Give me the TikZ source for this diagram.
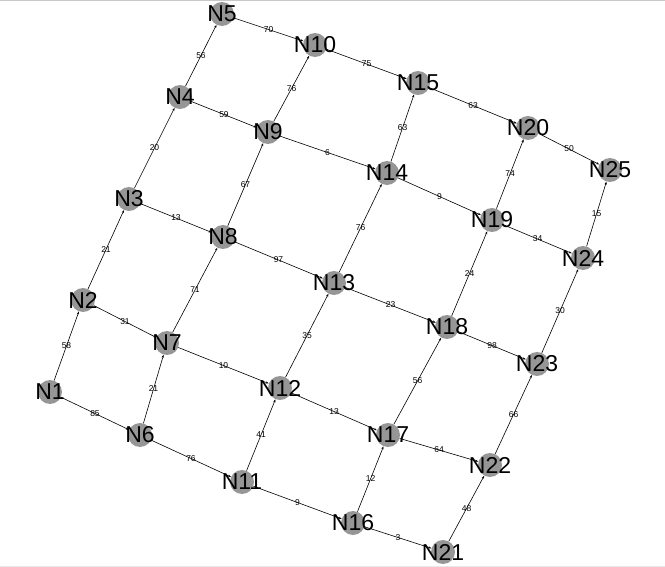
\documentclass[tikz,border=0pt]{standalone}
\usepackage{fontspec}
\setmainfont{Liberation Sans}
\usetikzlibrary{arrows.meta}
\definecolor{nodegray}{RGB}{150,150,150}
\definecolor{framegray}{RGB}{200,200,200}
\begin{document}
\begin{tikzpicture}[x=1pt,y=-1pt,
 vert/.style={circle,fill=nodegray,minimum size=24pt,inner sep=0pt},
 vlab/.style={font=\fontsize{23}{23}\selectfont,inner sep=0pt},
 edge/.style={draw=black,line width=0.6pt,-{Stealth[length=3pt,width=2.2pt]}},
 wt/.style={font=\fontsize{8.5}{9}\selectfont,inner sep=0pt,midway}]
\useasboundingbox (0,0) rectangle (665,567);
\draw[framegray,line width=1.5pt] (0,0.75) -- (665,0.75);
\draw[framegray!40,line width=1pt] (0,566) -- (665,566);
% vertices
\foreach \i/\x/\y in {1/50/392,2/83/300,3/129/199,4/180/97,5/222/14,
  6/140/435,7/167/343,8/223/237,9/268/132,10/315/45,
  11/242/482,12/280/388,13/334/283,14/387/173,15/418/83,
  16/353/523,17/388/435,18/447/327,19/492/220,20/528/128,
  21/443/552,22/490/465,23/537/364,24/583/258,25/610/170}
  \node[vert] (c\i) at (\x,\y) {};
% edges
\foreach \a/\b/\w in {1/2/58,2/3/21,3/4/20,4/5/56,
  6/7/21,7/8/71,8/9/67,9/10/76,
  11/12/41,12/13/35,13/14/76,14/15/63,
  16/17/12,17/18/56,18/19/24,19/20/74,
  21/22/48,22/23/66,23/24/30,24/25/15,
  1/6/85,6/11/76,11/16/9,16/21/3,
  2/7/31,7/12/10,12/17/13,17/22/64,
  3/8/13,8/13/97,13/18/23,18/23/98,
  4/9/59,9/14/6,14/19/9,19/24/34,
  5/10/70,10/15/75,15/20/63,20/25/50}
  \draw[edge] (c\a) -- node[wt] (w\a-\b) {\w} (c\b);
% vertex labels
\foreach \i in {1,...,25}
  \node[vlab] (t\i) at (c\i) {N\i};
\end{tikzpicture}
\end{document}
